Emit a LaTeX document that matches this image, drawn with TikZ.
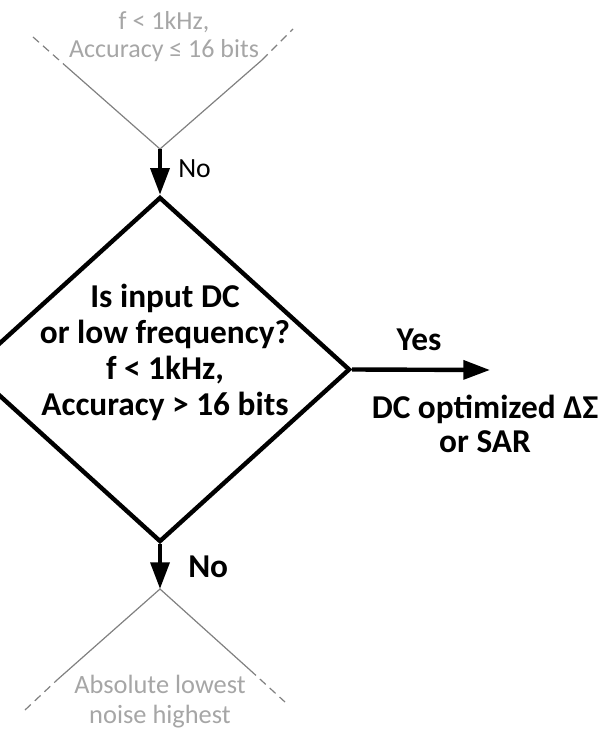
\documentclass[tikz,border=0pt]{standalone}
\usepackage{fontspec}
\setmainfont{Carlito}
\usetikzlibrary{arrows.meta,shapes.geometric}
\definecolor{ghostline}{RGB}{128,128,128}
\definecolor{ghosttext}{RGB}{166,166,166}

\begin{document}
\begin{tikzpicture}[x=0.75pt,y=-0.75pt,line join=miter,
  decision/.style={diamond,draw,line width=3.3pt,minimum width=285pt,minimum height=258.75pt,inner sep=0pt},
  flow/.style={line width=3.3pt,-{Triangle[length=20pt,width=14pt]}},
  ghost/.style={draw=ghostline,line width=0.9pt},
  ghostdash/.style={ghost,dash pattern=on 6pt off 4pt},
  ghostnote/.style={text=ghosttext,align=center,anchor=base,inner sep=0pt},
  boldtext/.style={font=\fontsize{25}{27}\selectfont\bfseries,align=center,anchor=base,inner sep=0pt}]
  \useasboundingbox (0,0) rectangle (601,730);
  % decision and its text (base = last line)
  \node[decision] (q) at (160,369.5) {};
  \node[boldtext] (qtext) at (165,415) {Is input DC\\or low frequency?\\f < 1kHz,\\Accuracy > 16 bits};
  % faded neighbours above and below
  \coordinate (up) at (160,149); \coordinate (down) at (160,589);
  \coordinate (tl) at (33,37); \coordinate (tlm) at (68,68); \coordinate (tr) at (293,29); \coordinate (trm) at (262,60);
  \coordinate (bl) at (25,710); \coordinate (blm) at (57,680); \coordinate (br) at (285,702); \coordinate (brm) at (250,670);
  \draw[ghostdash] (tl)--(tlm); \draw[ghost] (tlm)--(up)--(trm); \draw[ghostdash] (trm)--(tr);
  \draw[ghostdash] (bl)--(blm); \draw[ghost] (blm)--(down)--(brm); \draw[ghostdash] (brm)--(br);
  \node[ghostnote,font=\fontsize{19.5}{21}\selectfont] (above) at (164,58) {f < 1kHz,\\Accuracy ≤ 16 bits};
  \node[ghostnote,font=\fontsize{19.8}{22.5}\selectfont] (below) at (160,723) {Absolute lowest\\noise highest};
  % arrows
  \coordinate (yes) at (490,370);
  \draw[flow] (up)--(q.north);
  \draw[flow] (q.south)--(down);
  \draw[flow] (q.east)--(yes);
  \node[anchor=base west,inner sep=0pt,font=\fontsize{20.8}{22}\selectfont] (noin) at (178,178) {No};
  \node[boldtext,anchor=base west] (noout) at (188,577) {No};
  \node[boldtext] (yeslabel) at (419,350) {Yes};
  \node[boldtext,font=\fontsize{25}{25.5}\selectfont\bfseries] (sar) at (485,452) {DC optimized ΔΣ\\or SAR};
\end{tikzpicture}
\end{document}
